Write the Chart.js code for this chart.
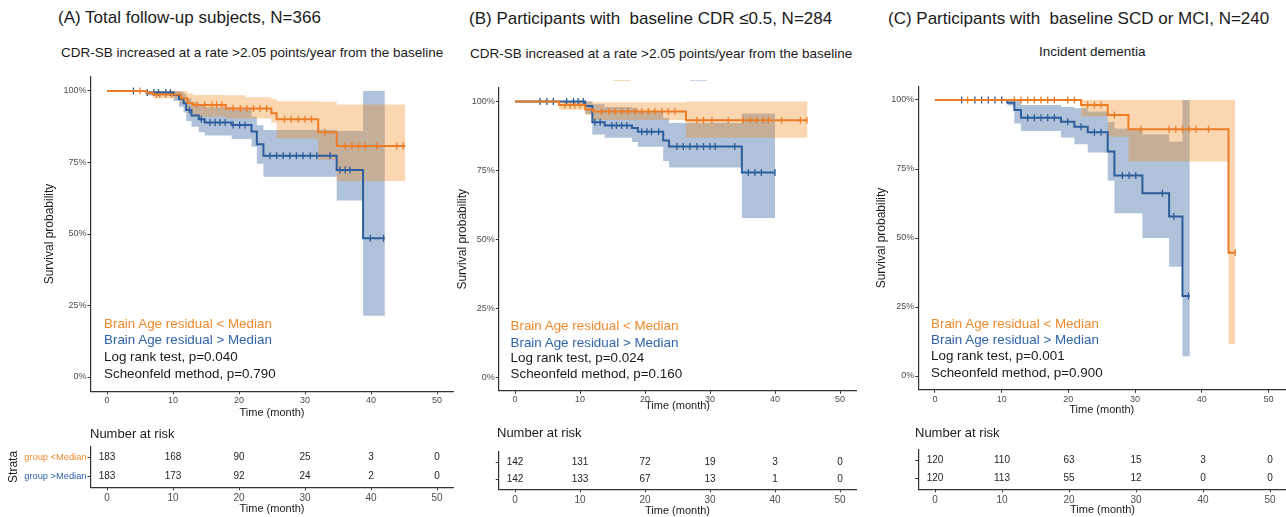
<!DOCTYPE html>
<html><head><meta charset="utf-8">
<script src="https://cdn.jsdelivr.net/npm/chart.js@4/dist/chart.umd.min.js"></script>
<style>
body{margin:0;width:1286px;height:517px;overflow:hidden;background:#fff;position:relative;font-family:"Liberation Sans",Arial,sans-serif;color:#1a1a1a}
.t{position:absolute;white-space:nowrap;line-height:1}
.cv{position:absolute}
</style></head><body>
<div class="t" style="left:58px;top:8.5px;font-size:17px">(A) Total follow-up subjects, N=366</div>
<div class="t" style="left:61px;top:46px;font-size:13.5px">CDR-SB increased at a rate &gt;2.05 points/year from the baseline</div>
<div class="t" style="left:469px;top:9.5px;font-size:17px">(B) Participants with&nbsp; baseline CDR ≤0.5, N=284</div>
<div class="t" style="left:470px;top:46.5px;font-size:13.5px">CDR-SB increased at a rate &gt;2.05 points/year from the baseline</div>
<div class="t" style="left:888px;top:9.5px;font-size:17px">(C) Participants with&nbsp; baseline SCD or MCI, N=240</div>
<div class="t" style="left:1039px;top:45px;font-size:13.5px">Incident dementia</div>
<div style="position:absolute;left:613px;top:79.5px;width:17px;height:1px;background:#f7d9b8"></div>
<div style="position:absolute;left:690px;top:79.5px;width:17px;height:1px;background:#c9d6e8"></div>

<canvas id="mA" class="cv"></canvas><canvas id="mB" class="cv"></canvas><canvas id="mC" class="cv"></canvas>
<canvas id="rA" class="cv"></canvas><canvas id="rB" class="cv"></canvas><canvas id="rC" class="cv"></canvas>

<div id="legA"></div><div id="legB"></div><div id="legC"></div>
<div class="t" style="left:90px;top:426.5px;font-size:13px">Number at risk</div>
<div class="t" style="left:497px;top:425.5px;font-size:13px">Number at risk</div>
<div class="t" style="left:915px;top:426px;font-size:13px">Number at risk</div>
<script>
// ---------- shared ----------
const xTicks = [0, 10, 20, 30, 40, 50];
const yTicks = [0, 25, 50, 75, 100];
const riskTimes = [0, 10, 20, 30, 40, 50];
const groupLabels = ["group >Median", "group <Median"];
const legendLines = ["Brain Age residual < Median", "Brain Age residual > Median"];

// ---------- Panel A ----------
const A_lowT = [0, 6, 7, 11.2, 12.2, 13, 18, 24.9, 25.7, 32, 34.8, 45.2];
const A_lowS = [100, 99.4, 98.8, 97.5, 95.8, 95.1, 93.9, 92.2, 90.1, 85.6, 80.8, 80.8];
const A_lowCiT = [6, 7, 11.2, 12.2, 13, 18, 21, 24.9, 25.7, 32, 34.8, 45.2];
const A_lowCiU = [100, 100, 100, 99.2, 98.6, 98.5, 97.8, 97.2, 96.4, 96.2, 95.3, 95.3];
const A_lowCiL = [98.5, 97.5, 95.5, 92.5, 91.0, 90.4, 90.4, 89.0, 83.4, 76.0, 68.5, 68.5];
const A_lowCens = [5.0, 7.5, 8.0, 8.9, 9.8, 13.6, 14.8, 15.9, 16.6, 17.4, 19.1, 20.2, 21.2, 22.2, 23.2, 24.2, 26.9, 27.9, 29.0, 30.0, 31.0, 33.0, 36.1, 37.1, 38.1, 39.1, 40.9, 43.9, 44.9];
const A_highT = [0, 6, 10.1, 10.9, 11.6, 12.0, 12.8, 13.9, 14.8, 18.9, 21.9, 22.7, 23.7, 34.8, 38.8, 42.1];
const A_highS = [100, 99.5, 98.6, 97.2, 95.7, 93.4, 91.4, 90.1, 89.0, 88.1, 85.8, 81.4, 77.4, 72.4, 48.5, 48.5];
const A_highCiT = [6, 10.1, 10.9, 11.6, 12.0, 12.8, 13.9, 14.8, 18.9, 21.9, 22.7, 23.7, 34.8, 38.8, 42.1];
const A_highCiU = [100, 100, 99.8, 99, 97.5, 96, 95, 94.3, 93.5, 91, 88, 86.4, 86.0, 100, 100];
const A_highCiL = [98.5, 96.5, 94.5, 92.5, 89.5, 87.5, 85.6, 84.4, 83.2, 80.5, 74.6, 70.0, 61.7, 21.4, 21.4];
const A_highCens = [4.0, 6.1, 7.1, 7.8, 8.9, 9.6, 12.5, 14.3, 15.6, 16.4, 17.1, 17.9, 19.1, 20.1, 20.9, 24.7, 25.7, 26.7, 27.7, 28.7, 29.7, 30.8, 31.8, 33.8, 35.3, 36.1, 36.8, 39.9, 41.9];
const A_riskLow = [183, 168, 90, 25, 3, 0];
const A_riskHigh = [183, 173, 92, 24, 2, 0];
const A_stats = ["Log rank test, p=0.040", "Scheonfeld method, p=0.790"];

// ---------- Panel B ----------
const B_lowT = [0, 6.8, 10.8, 12, 26.3, 45];
const B_lowS = [100, 98.7, 97.1, 96.4, 93.2, 93.2];
const B_lowCiT = [6.8, 10.8, 12, 26.3, 45];
const B_lowCiU = [100, 100, 99.7, 100, 100];
const B_lowCiL = [97, 95.2, 93.3, 86.8, 86.8];
const B_lowCens = [7.7, 8.5, 9.2, 10.0, 13.3, 14.4, 15.4, 16.4, 17.4, 18.5, 19.5, 20.5, 21.5, 22.6, 23.6, 24.6, 28.0, 29.0, 30.3, 32.8, 35.1, 36.2, 37.2, 38.2, 39.0, 41.0, 43.9, 44.9];
const B_highT = [0, 10.8, 11.9, 13.8, 18, 18.9, 22.8, 23.7, 34.9, 40];
const B_highS = [100, 98.4, 92.5, 91.3, 90.4, 89.0, 85.8, 83.7, 74.2, 74.2];
const B_highCiT = [10.8, 11.9, 13.8, 18, 18.9, 22.8, 23.7, 34.9, 40];
const B_highCiU = [100, 99, 98, 97.5, 96.2, 94, 92.2, 95.6, 95.6];
const B_highCiL = [95.5, 88, 86.8, 85.3, 83.6, 78.4, 76, 57.7, 57.7];
const B_highCens = [3.85, 4.9, 5.9, 7.95, 9.0, 9.7, 10.5, 12.3, 13.1, 14.9, 15.6, 16.4, 17.2, 19.5, 20.3, 21.0, 22.1, 24.9, 25.9, 26.9, 28.0, 29.0, 30.0, 30.8, 33.8, 35.9, 36.9, 37.9, 40.0];
const B_riskLow = [142, 131, 72, 19, 3, 0];
const B_riskHigh = [142, 133, 67, 13, 1, 0];
const B_stats = ["Log rank test, p=0.024", "Scheonfeld method, p=0.160"];

// ---------- Panel C ----------
const C_lowT = [0, 21.9, 25.9, 29.0, 44.0, 45];
const C_lowS = [100, 98.2, 94.6, 89.4, 44.7, 44.7];
const C_lowCiT = [21.9, 25.9, 29.0, 44.0, 45];
const C_lowCiU = [100, 100, 100, 100, 100];
const C_lowCiL = [94, 86.7, 77.7, 11.5, 11.5];
const C_lowCens = [4.9, 11.9, 12.9, 13.9, 14.9, 15.9, 16.9, 17.9, 19.9, 20.9, 22.9, 23.9, 24.9, 26.9, 30.9, 35.1, 36.1, 37.1, 38.1, 39.1, 41.0, 45.0];
const C_highT = [0, 10.85, 11.9, 12.9, 18.9, 20.9, 22.9, 25.9, 26.9, 31.1, 35.1, 37.1, 38.2];
const C_highS = [100, 99.0, 96.4, 93.6, 92.1, 90.3, 88.3, 81.3, 72.6, 66.2, 57.8, 29.0, 29.0];
const C_highCiT = [10.85, 11.9, 12.9, 18.9, 20.9, 22.9, 25.9, 26.9, 31.1, 35.1, 37.1, 38.2];
const C_highCiU = [100, 100, 98.2, 97.5, 97, 95.8, 92, 89.7, 87.5, 85, 100, 100];
const C_highCiL = [98, 91.5, 88.8, 86.4, 84, 81, 70.7, 59, 50, 39.6, 7.2, 7.2];
const C_highCens = [4.0, 6.0, 7.0, 8.0, 9.0, 10.0, 13.9, 14.9, 15.9, 16.9, 17.9, 19.9, 21.9, 23.9, 24.9, 28.1, 29.1, 30.1, 34.1, 35.8, 38.0];
const C_riskLow = [120, 110, 63, 15, 3, 0];
const C_riskHigh = [120, 113, 55, 12, 0, 0];
const C_stats = ["Log rank test, p=0.001", "Scheonfeld method, p=0.900"];

// ---------- styling ----------
const F = '"Liberation Sans", Arial, sans-serif';
const ORANGE = '#EC7D26', BLUE = '#2C5D9C';
const ORANGE_TXT = '#EE8A2E', BLUE_TXT = '#2F64A8';
const ORANGE_FILL = 'rgba(240,140,40,0.36)', BLUE_FILL = 'rgba(46,95,158,0.38)';
const AX = '#333333';

function pts(ts, ys) { return ts.map((t, i) => ({ x: t, y: ys[i] })); }
function survAt(ts, ys, t) { let v = ys[0]; for (let i = 0; i < ts.length; i++) if (ts[i] <= t) v = ys[i]; return v; }
function place(id, g) {
  const c = document.getElementById(id);
  c.width = g.w; c.height = g.h;
  c.style.left = g.left + 'px'; c.style.top = g.top + 'px';
  c.style.width = g.w + 'px'; c.style.height = g.h + 'px';
  return c;
}

function mainChart(id, g, d) {
  const c = place(id, g);
  const line = (data, col) => ({ data, borderColor: col, borderWidth: 2, stepped: 'before', pointRadius: 0, fill: false, order: 0 });
  const cens = (ts, T, S, col) => ({ data: ts.map(t => ({ x: t, y: survAt(T, S, t) })), showLine: false, borderColor: col, backgroundColor: col,
    pointStyle: 'line', pointRotation: 90, pointRadius: 3.5, pointBorderWidth: 1.3, pointHoverRadius: 0, order: 0 });
  const band = (T, Y, fill, bg, ord) => ({ data: pts(T, Y), borderColor: 'transparent', borderWidth: 0, backgroundColor: bg,
    stepped: 'before', pointRadius: 0, fill, order: ord });
  new Chart(c, {
    type: 'line',
    data: { datasets: [
      line(pts(d.lowT, d.lowS), ORANGE),
      line(pts(d.highT, d.highS), BLUE),
      cens(d.lowCens, d.lowT, d.lowS, ORANGE),
      cens(d.highCens, d.highT, d.highS, BLUE),
      band(d.highCiT, d.highCiU, '+1', BLUE_FILL, 3),
      band(d.highCiT, d.highCiL, false, 'transparent', 3),
      band(d.lowCiT, d.lowCiU, '+1', ORANGE_FILL, 2),
      band(d.lowCiT, d.lowCiL, false, 'transparent', 2)
    ] },
    options: {
      responsive: false, animation: false, devicePixelRatio: 1, events: [],
      layout: { padding: { left: 0, top: g.padTop, right: g.padRight, bottom: 0 } },
      plugins: { legend: { display: false }, tooltip: { enabled: false } },
      scales: {
        x: { type: 'linear', min: -2.5, max: 52.5,
          afterBuildTicks: s => { s.ticks = xTicks.map(v => ({ value: v })); },
          afterFit: s => { s.height = g.xH; },
          grid: { display: true, drawOnChartArea: false, drawTicks: true, tickLength: 3, color: AX },
          border: { display: true, color: AX, width: 1.2 },
          ticks: { font: { family: F, size: 9 }, color: '#4d4d4d', padding: g.xTickPad, maxRotation: 0, autoSkip: false },
          title: { display: true, text: 'Time (month)', font: { family: F, size: 11 }, color: '#1a1a1a', padding: { top: 0, bottom: g.xTitlePad } } },
        y: { type: 'linear', min: -5, max: 105,
          afterBuildTicks: s => { s.ticks = yTicks.map(v => ({ value: v })); },
          afterFit: s => { s.width = g.yW; },
          grid: { display: true, drawOnChartArea: false, drawTicks: true, tickLength: 3, color: AX },
          border: { display: true, color: AX, width: 1.2 },
          ticks: { font: { family: F, size: 9 }, color: '#4d4d4d', padding: 1, callback: v => v + '%' },
          title: { display: true, text: 'Survival probability', font: { family: F, size: 12 }, color: '#1a1a1a', padding: { top: g.yTitlePad, bottom: 0 } } }
      }
    }
  });
}

function riskChart(id, g, low, high, showLabels) {
  const c = place(id, g);
  const rows = [{ row: 2, values: low }, { row: 1, values: high }];
  const numbers = { id: 'riskNumbers', afterDraw(chart) {
    const ctx = chart.ctx, xs = chart.scales.x, ys = chart.scales.y;
    ctx.save(); ctx.font = '10px ' + F; ctx.fillStyle = '#1f1f1f'; ctx.textAlign = 'center'; ctx.textBaseline = 'middle';
    rows.forEach(r => r.values.forEach((v, i) => ctx.fillText(String(v), xs.getPixelForValue(riskTimes[i]), ys.getPixelForValue(r.row))));
    ctx.restore();
  } };
  new Chart(c, {
    type: 'scatter',
    data: { datasets: [{ data: [] }] },
    plugins: [numbers],
    options: {
      responsive: false, animation: false, devicePixelRatio: 1, events: [],
      layout: { padding: { left: 0, top: g.padTop, right: g.padRight, bottom: 0 } },
      plugins: { legend: { display: false }, tooltip: { enabled: false } },
      scales: {
        x: { type: 'linear', min: -2.5, max: 52.5,
          afterBuildTicks: s => { s.ticks = xTicks.map(v => ({ value: v })); },
          afterFit: s => { s.height = g.xH; },
          grid: { display: true, drawOnChartArea: false, drawTicks: true, tickLength: 3, color: AX },
          border: { display: true, color: AX, width: 1.2 },
          ticks: { font: { family: F, size: 10 }, color: '#4d4d4d', padding: 1.5, maxRotation: 0, autoSkip: false },
          title: { display: true, text: 'Time (month)', font: { family: F, size: 11 }, color: '#1a1a1a', padding: { top: 0, bottom: g.xTitlePad } } },
        y: { type: 'linear', min: 0.4, max: 2.6,
          afterBuildTicks: s => { s.ticks = [1, 2].map(v => ({ value: v })); },
          afterFit: s => { s.width = g.yW; },
          grid: { display: true, drawOnChartArea: false, drawTicks: true, tickLength: 3, color: AX },
          border: { display: true, color: AX, width: 1.2 },
          ticks: { font: { family: F, size: 9.3 }, padding: 1,
            color: ctx => (ctx.tick && ctx.tick.value === 2) ? ORANGE_TXT : BLUE_TXT,
            callback: v => showLabels ? groupLabels[v - 1] : '' },
          title: { display: showLabels, text: 'Strata', font: { family: F, size: 12 }, color: '#1a1a1a', padding: { top: g.yTitlePad || 0, bottom: 0 } } }
      }
    }
  });
}

function legend(id, x, ys, stats) {
  const el = document.getElementById(id);
  const items = [[legendLines[0], ORANGE_TXT], [legendLines[1], BLUE_TXT], [stats[0], '#1a1a1a'], [stats[1], '#1a1a1a']];
  el.innerHTML = items.map((it, i) => {
    const d = document.createElement('div');
    d.className = 't'; d.style.left = x + 'px'; d.style.top = (ys[i] - 6.8) + 'px';
    d.style.fontSize = '13.4px'; d.style.color = it[1]; d.textContent = it[0];
    return d.outerHTML;
  }).join('');
}

mainChart('mA', { left: 40, top: 70, w: 420, h: 350, padTop: 6.7, padRight: 6.5, yW: 50.5, xH: 28.7, yTitlePad: 2.8, xTitlePad: 0.4, xTickPad: 1 },
  { lowT: A_lowT, lowS: A_lowS, lowCiT: A_lowCiT, lowCiU: A_lowCiU, lowCiL: A_lowCiL, lowCens: A_lowCens,
    highT: A_highT, highS: A_highS, highCiT: A_highCiT, highCiU: A_highCiU, highCiL: A_highCiL, highCens: A_highCens });
mainChart('mB', { left: 455, top: 70, w: 407, h: 343, padTop: 17.7, padRight: 5.75, yW: 43.75, xH: 22.2, yTitlePad: 0.8, xTitlePad: 0, xTickPad: 0 },
  { lowT: B_lowT, lowS: B_lowS, lowCiT: B_lowCiT, lowCiU: B_lowCiU, lowCiL: B_lowCiL, lowCens: B_lowCens,
    highT: B_highT, highS: B_highS, highCiT: B_highCiT, highCiU: B_highCiU, highCiL: B_highCiL, highCens: B_highCens });
mainChart('mC', { left: 874, top: 70, w: 416, h: 347, padTop: 16.2, padRight: 3.25, yW: 44.25, xH: 27.2, yTitlePad: 0, xTitlePad: 0.1, xTickPad: 1 },
  { lowT: C_lowT, lowS: C_lowS, lowCiT: C_lowCiT, lowCiU: C_lowCiU, lowCiL: C_lowCiL, lowCens: C_lowCens,
    highT: C_highT, highS: C_highS, highCiT: C_highCiT, highCiU: C_highCiU, highCiL: C_highCiL, highCens: C_highCens });

riskChart('rA', { left: 0, top: 440, w: 460, h: 76, padTop: 6.5, padRight: 6.5, yW: 90.5, xH: 28.7, yTitlePad: 6.8, xTitlePad: 0.1 }, A_riskLow, A_riskHigh, true);
riskChart('rB', { left: 455, top: 440, w: 407, h: 78, padTop: 12, padRight: 5.75, yW: 43.75, xH: 28.7, xTitlePad: 0.4 }, B_riskLow, B_riskHigh, false);
riskChart('rC', { left: 874, top: 440, w: 416, h: 77, padTop: 10, padRight: 3.25, yW: 44.25, xH: 27.7, xTitlePad: 0.1 }, C_riskLow, C_riskHigh, false);

legend('legA', 104, [323.3, 340, 356.7, 373.3], A_stats);
legend('legB', 510.5, [325.7, 342.3, 358, 374], B_stats);
legend('legC', 931, [323.3, 340, 356, 372.3], C_stats);
</script>
</body></html>
